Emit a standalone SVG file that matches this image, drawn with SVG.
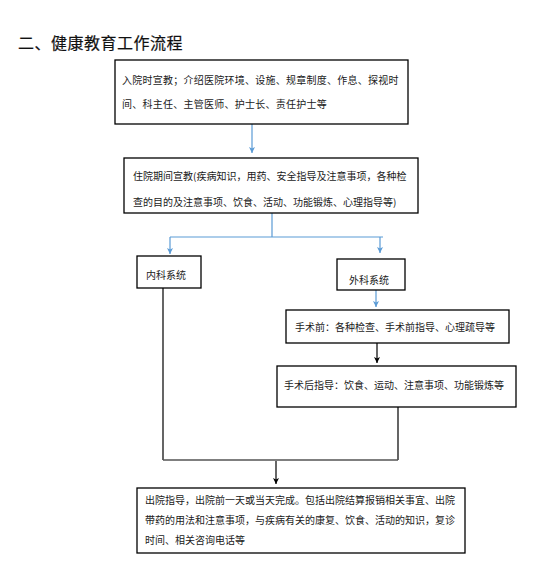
<svg xmlns="http://www.w3.org/2000/svg" width="537" height="577" viewBox="0 0 537 577">
<defs>
<style>
.t{font-family:"Noto Sans CJK SC","Noto Sans CJK JP",sans-serif;font-size:10px;fill:#1a1a1a}
.box{fill:#fff;stroke:#000;stroke-width:1.3}
.blue{stroke:#5b9bd5;stroke-width:1.2;fill:none}
.blk{stroke:#000;stroke-width:1.2;fill:none}
</style>
<marker id="ab" viewBox="0 0 8 8" refX="4" refY="8" markerWidth="6" markerHeight="6" markerUnits="userSpaceOnUse">
<path d="M0,0 L4,8 L8,0 L4,2 Z" fill="#5b9bd5"/>
</marker>
<marker id="ak" viewBox="0 0 8 8" refX="4" refY="8" markerWidth="6" markerHeight="6" markerUnits="userSpaceOnUse">
<path d="M0,0 L4,8 L8,0 L4,2 Z" fill="#000"/>
</marker>
</defs>
<rect width="537" height="577" fill="#fff"/>
<text x="18" y="49" style="font-family:'Noto Sans CJK SC',sans-serif;font-size:16px;fill:#111;letter-spacing:0.5px;stroke:#111;stroke-width:0.2">二、健康教育工作流程</text>
<g id="connectors">
<path class="blue" d="M252,124 V153" marker-end="url(#ab)"/>
<path class="blue" d="M272,213 V237 M170,237 H383"/>
<path class="blue" d="M170,237 V254" marker-end="url(#ab)"/>
<path class="blue" d="M380,237 V253" marker-end="url(#ab)"/>
<path class="blue" d="M376,290 V307" marker-end="url(#ab)"/>
<path class="blk" d="M377,343 V363" marker-end="url(#ak)"/>
<path class="blk" d="M163,288 V460 M398,407 V460"/>
<path d="M163,460 H398" stroke="#555" stroke-width="1.6" fill="none"/>
<path class="blk" d="M276,461 V484" marker-end="url(#ak)"/>
</g>
<g id="n1">
<rect class="box" x="115" y="60" width="293" height="64"/>
<text class="t" x="122" y="84" letter-spacing="0.25">入院时宣教；介绍医院环境、设施、规章制度、作息、探视时</text>
<text class="t" x="122" y="108" letter-spacing="0.25">间、科主任、主管医师、护士长、责任护士等</text>
</g>
<g id="n2">
<rect class="box" x="124" y="158" width="294" height="55"/>
<text class="t" x="133" y="180">住院期间宣教(疾病知识，用药、安全指导及注意事项，各种检</text>
<text class="t" x="133" y="206">查的目的及注意事项、饮食、活动、功能锻炼、心理指导等)</text>
</g>
<g id="n3">
<rect class="box" x="137" y="256" width="64" height="32"/>
<text class="t" x="146" y="279">内科系统</text>
</g>
<g id="n4">
<rect class="box" x="337" y="259" width="68" height="31"/>
<text class="t" x="349" y="284">外科系统</text>
</g>
<g id="n5">
<rect class="box" x="286" y="310" width="223" height="33"/>
<text class="t" x="295" y="331">手术前：各种检查、手术前指导、心理疏导等</text>
</g>
<g id="n6">
<rect class="box" x="277" y="366" width="239" height="41"/>
<text class="t" x="284" y="389">手术后指导：饮食、运动、注意事项、功能锻炼等</text>
</g>
<g id="n7">
<rect class="box" x="137" y="488" width="328" height="65"/>
<text class="t" x="145" y="504">出院指导，出院前一天或当天完成。包括出院结算报销相关事宜、出院</text>
<text class="t" x="145" y="524">带药的用法和注意事项，与疾病有关的康复、饮食、活动的知识，复诊</text>
<text class="t" x="145" y="544">时间、相关咨询电话等</text>
</g>
</svg>
